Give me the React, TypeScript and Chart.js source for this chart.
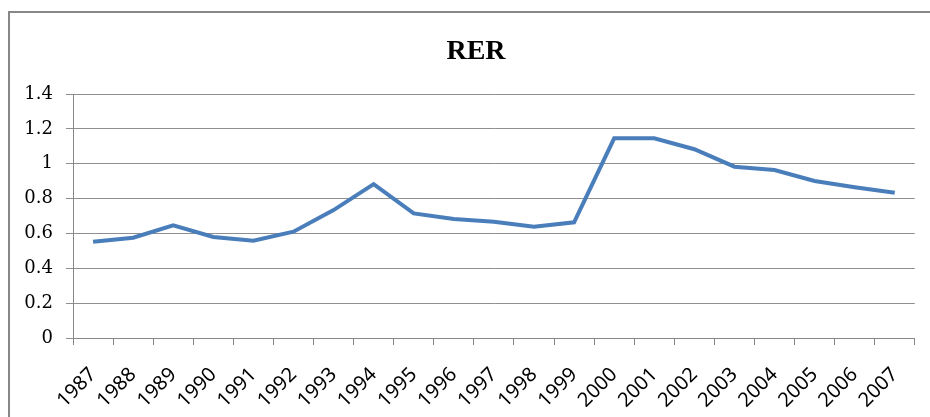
import React, { useEffect, useRef } from "react";
import { Chart, registerables } from "chart.js";

Chart.register(...registerables);

const categories = [
  "1987", "1988", "1989", "1990", "1991", "1992", "1993", "1994", "1995", "1996", "1997",
  "1998", "1999", "2000", "2001", "2002", "2003", "2004", "2005", "2006", "2007",
];
const rerValues = [
  0.552, 0.575, 0.646, 0.58, 0.558, 0.61, 0.734, 0.883, 0.715, 0.683, 0.667,
  0.639, 0.664, 1.146, 1.146, 1.083, 0.983, 0.964, 0.901, 0.865, 0.834,
];
const yTickValues = [0, 0.2, 0.4, 0.6, 0.8, 1, 1.2, 1.4];
const yTickLabels = ["0", "0.2", "0.4", "0.6", "0.8", "1", "1.2", "1.4"];
const titleText = "RER";

const framePlugin = {
  id: "frame",
  beforeDraw(chart: any) {
    const ctx = chart.ctx;
    ctx.save();
    ctx.fillStyle = "#ffffff";
    ctx.fillRect(0, 0, chart.width, chart.height);
    ctx.fillStyle = "#878787";
    ctx.fillRect(8, 11, 2, chart.height - 11);
    ctx.fillRect(8, 11, chart.width - 8, 2);
    ctx.restore();
  },
  afterDraw(chart: any) {
    const ctx = chart.ctx;
    ctx.save();
    ctx.fillStyle = "#000000";
    ctx.font = "bold 28px 'Liberation Serif'";
    ctx.textAlign = "center";
    ctx.textBaseline = "alphabetic";
    ctx.fillText(titleText, 476, 59);
    ctx.restore();
  },
};

export default function App() {
  const ref = useRef<HTMLCanvasElement | null>(null);
  useEffect(() => {
    if (!ref.current) return;
    const chart = new Chart(ref.current, {
      type: "line",
      data: {
        labels: categories,
        datasets: [
          {
            label: titleText,
            data: rerValues,
            borderColor: "#4a7ebb",
            borderWidth: 4,
            pointRadius: 0,
            tension: 0,
            fill: false,
          },
        ],
      },
      options: {
        animation: false,
        responsive: false,
        maintainAspectRatio: false,
        layout: { padding: { top: 94, left: 0, right: 11, bottom: 0 } },
        plugins: {
          legend: { display: false },
          title: { display: false },
          tooltip: { enabled: false },
        },
        scales: {
          x: {
            type: "category",
            offset: true,
            grid: {
              drawOnChartArea: false,
              drawTicks: true,
              tickLength: 7,
              offset: true,
              color: "#878787",
            },
            border: { color: "#878787", width: 1 },
            ticks: {
              minRotation: 45,
              maxRotation: 45,
              autoSkip: false,
              color: "#000000",
              padding: 18,
              font: { family: "'Noto Sans'", size: 20 },
            },
            afterFit(scale: any) {
              scale.height = 79;
            },
          },
          y: {
            min: 0,
            max: 1.4,
            grid: {
              color: "#8f8f8f",
              tickLength: 7,
              drawTicks: true,
            },
            border: { color: "#878787", width: 1 },
            afterBuildTicks(scale: any) {
              scale.ticks = yTickValues.map((v) => ({ value: v }));
            },
            ticks: {
              color: "#000000",
              padding: 13,
              font: { family: "'DejaVu Serif'", size: 18 },
              callback: (value: any) => {
                const i = yTickValues.findIndex((v) => Math.abs(v - Number(value)) < 1e-9);
                return i >= 0 ? yTickLabels[i] : String(value);
              },
            },
            afterFit(scale: any) {
              scale.width = 73;
            },
          },
        },
      },
      plugins: [framePlugin],
    });
    return () => chart.destroy();
  }, []);
  return (
    <div style={{ position: "absolute", left: 0, top: 0, width: 930, height: 417 }}>
      <canvas ref={ref} width={930} height={417} style={{ display: "block" }} />
    </div>
  );
}
